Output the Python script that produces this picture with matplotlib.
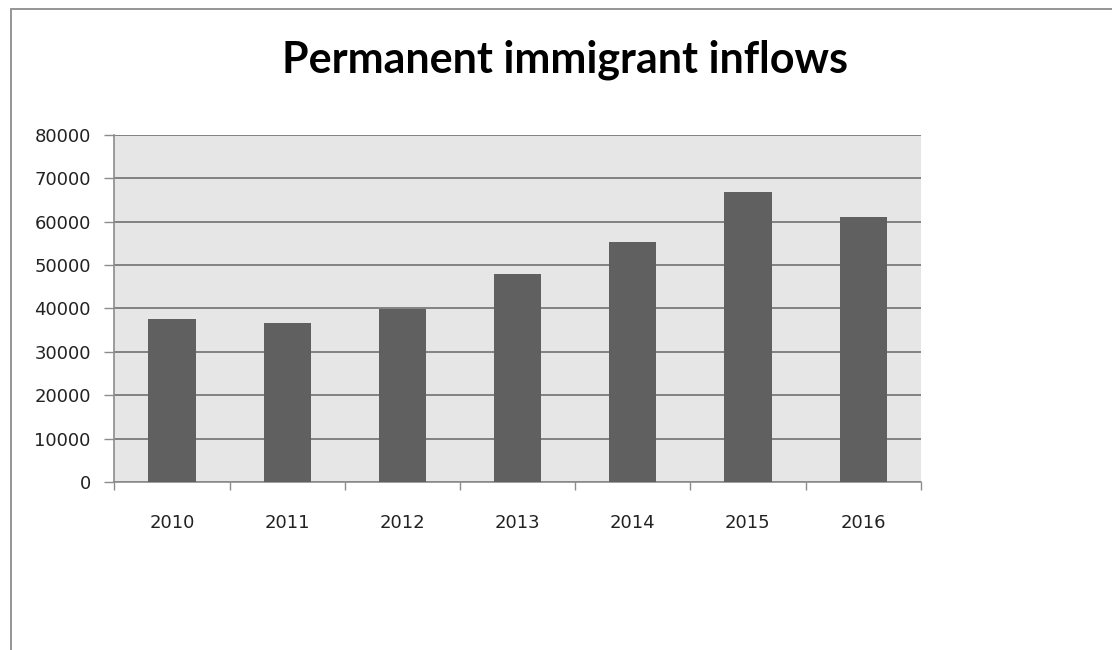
import matplotlib
matplotlib.use("Agg")
import matplotlib.pyplot as plt
from matplotlib.patches import Rectangle
import numpy as np

years = ["2010", "2011", "2012", "2013", "2014", "2015", "2016"]
inflows = [37600, 36700, 39900, 47900, 55400, 66900, 61100]
y_ticks = [0, 10000, 20000, 30000, 40000, 50000, 60000, 70000, 80000]
title = "Permanent immigrant inflows"

fig = plt.figure(figsize=(11.12, 6.5), dpi=100)
fig.patch.set_facecolor("white")

# outer chart border
fig.add_artist(Rectangle((11 / 1112, -0.1), 1.2, 1 - 9 / 650 + 0.1,
                         transform=fig.transFigure, fill=False,
                         edgecolor="#8c8c8c", linewidth=1.3))

ax = fig.add_axes([0.1028, 0.258, 0.7252, 0.5348])
ax.set_facecolor("#e6e6e6")

x = np.arange(len(years))
ax.bar(x, inflows, width=0.41, color="#606060", zorder=3)

ax.set_xlim(-0.5, len(years) - 0.5)
ax.set_ylim(0, 80000)
ax.set_yticks(y_ticks)
ax.set_yticklabels([str(v) for v in y_ticks])
ax.yaxis.grid(True, color="#7a7a7a", linewidth=1.3, zorder=1)
ax.set_axisbelow(True)

ax.set_xticks(x)
ax.set_xticklabels(years)
ax.set_xticks(np.arange(-0.5, len(years)), minor=True)
ax.tick_params(axis="x", which="major", length=0, pad=23, labelsize=13,
               labelcolor="#222222")
ax.tick_params(axis="x", which="minor", length=6, color="#8c8c8c", width=1)
ax.tick_params(axis="y", length=7, color="#8c8c8c", width=1, pad=10,
               labelsize=13, labelcolor="#222222")

for side in ["top", "right"]:
    ax.spines[side].set_visible(False)
ax.spines["left"].set_color("#8c8c8c")
ax.spines["bottom"].set_color("#8c8c8c")
ax.spines["left"].set_linewidth(1.2)
ax.spines["bottom"].set_linewidth(1.2)

for lbl in ax.get_xticklabels() + ax.get_yticklabels():
    lbl.set_family(["DejaVu Sans"])

fig.text(0.508, 0.908, title, ha="center", va="center", fontsize=31,
         fontweight="bold", family=["Lato", "DejaVu Sans"],
         color="black")

fig.savefig("out.png", dpi=100)
